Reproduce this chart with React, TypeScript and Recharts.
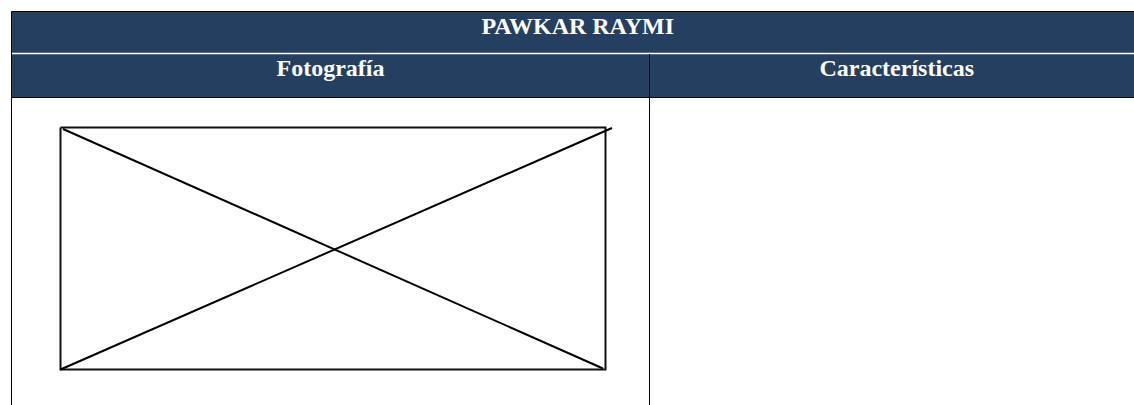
import { ComposedChart, Line, ReferenceArea, ReferenceLine, XAxis, YAxis } from 'recharts'

// table grid, in page pixels (the sheet runs past the right edge of the window)
const COLUMN_EDGES = [11.5, 649.5, 1144]
const ROW_EDGES = [11.5, 53, 97.5, 405]

const TITLE = 'PAWKAR RAYMI'
const COLUMN_TITLES = ['Fotografía', 'Características']

// empty picture placeholder: frame plus the two crossing strokes
const PHOTO_FRAME = [
  { x: 60.5, y: 127.5 },
  { x: 605.5, y: 127.5 },
  { x: 605.5, y: 369.5 },
  { x: 60.5, y: 369.5 },
  { x: 60.5, y: 127.5 },
]
const CROSS_DOWN = [
  { x: 63, y: 129 },
  { x: 603, y: 368.5 },
]
const CROSS_UP = [
  { x: 60.5, y: 369.5 },
  { x: 612, y: 128 },
]

const WIDTH = 1134
const HEIGHT = 405
const HEADER_BG = '#243f60'

// header text sits a bit high in its cell, like the Word table it came from
const headerLabel = (value: string, baseline: number) => ({
  content: (props: any) => {
    const vb = props.viewBox ?? {}
    return (
      <text
        x={vb.x + vb.width / 2}
        y={vb.y + baseline}
        textAnchor="middle"
        fill="#ffffff"
        style={{
          fontFamily: "'Liberation Serif', 'Times New Roman', serif",
          fontWeight: 700,
          fontSize: 24,
        }}
      >
        {value}
      </text>
    )
  },
})

export default function App() {
  const [left, split, right] = COLUMN_EDGES
  const [top, titleBottom, headBottom, bottom] = ROW_EDGES

  return (
    <div style={{ position: 'absolute', left: 0, top: 0, width: WIDTH, height: HEIGHT, background: '#fff' }}>
      <ComposedChart width={WIDTH} height={HEIGHT} margin={{ top: 0, right: 0, bottom: 0, left: 0 }}>
        <XAxis type="number" dataKey="x" domain={[0, WIDTH]} hide allowDataOverflow />
        <YAxis type="number" dataKey="y" domain={[0, HEIGHT]} reversed hide allowDataOverflow />

        <ReferenceArea
          x1={left}
          x2={right}
          y1={top}
          y2={titleBottom}
          fill={HEADER_BG}
          fillOpacity={1}
          ifOverflow="visible"
          label={headerLabel(TITLE, 22)}
        />
        <ReferenceArea
          x1={left}
          x2={split}
          y1={titleBottom + 1}
          y2={headBottom}
          fill={HEADER_BG}
          fillOpacity={1}
          ifOverflow="visible"
          label={headerLabel(COLUMN_TITLES[0], 22)}
        />
        <ReferenceArea
          x1={split}
          x2={right}
          y1={titleBottom + 1}
          y2={headBottom}
          fill={HEADER_BG}
          fillOpacity={1}
          ifOverflow="visible"
          label={headerLabel(COLUMN_TITLES[1], 22)}
        />

        <ReferenceLine
          segment={[{ x: left, y: titleBottom + 0.5 }, { x: right, y: titleBottom + 0.5 }]}
          stroke="#ffffff"
          strokeWidth={1.5}
          ifOverflow="visible"
        />
        <ReferenceLine
          segment={[{ x: left, y: top }, { x: right, y: top }]}
          stroke="#000"
          strokeWidth={1}
          ifOverflow="visible"
        />
        <ReferenceLine
          segment={[{ x: left, y: headBottom }, { x: right, y: headBottom }]}
          stroke="#000"
          strokeWidth={1}
          ifOverflow="visible"
        />
        <ReferenceLine
          segment={[{ x: left, y: top }, { x: left, y: bottom }]}
          stroke="#000"
          strokeWidth={1}
          ifOverflow="visible"
        />
        <ReferenceLine
          segment={[{ x: split, y: titleBottom + 1 }, { x: split, y: bottom }]}
          stroke="#000"
          strokeWidth={1}
          ifOverflow="visible"
        />

        <Line
          data={PHOTO_FRAME}
          dataKey="y"
          type="linear"
          stroke="#111"
          strokeWidth={2}
          dot={false}
          activeDot={false}
          isAnimationActive={false}
        />
        <Line
          data={CROSS_DOWN}
          dataKey="y"
          type="linear"
          stroke="#000"
          strokeWidth={2}
          dot={false}
          activeDot={false}
          isAnimationActive={false}
        />
        <Line
          data={CROSS_UP}
          dataKey="y"
          type="linear"
          stroke="#000"
          strokeWidth={2}
          dot={false}
          activeDot={false}
          isAnimationActive={false}
        />
      </ComposedChart>
    </div>
  )
}
